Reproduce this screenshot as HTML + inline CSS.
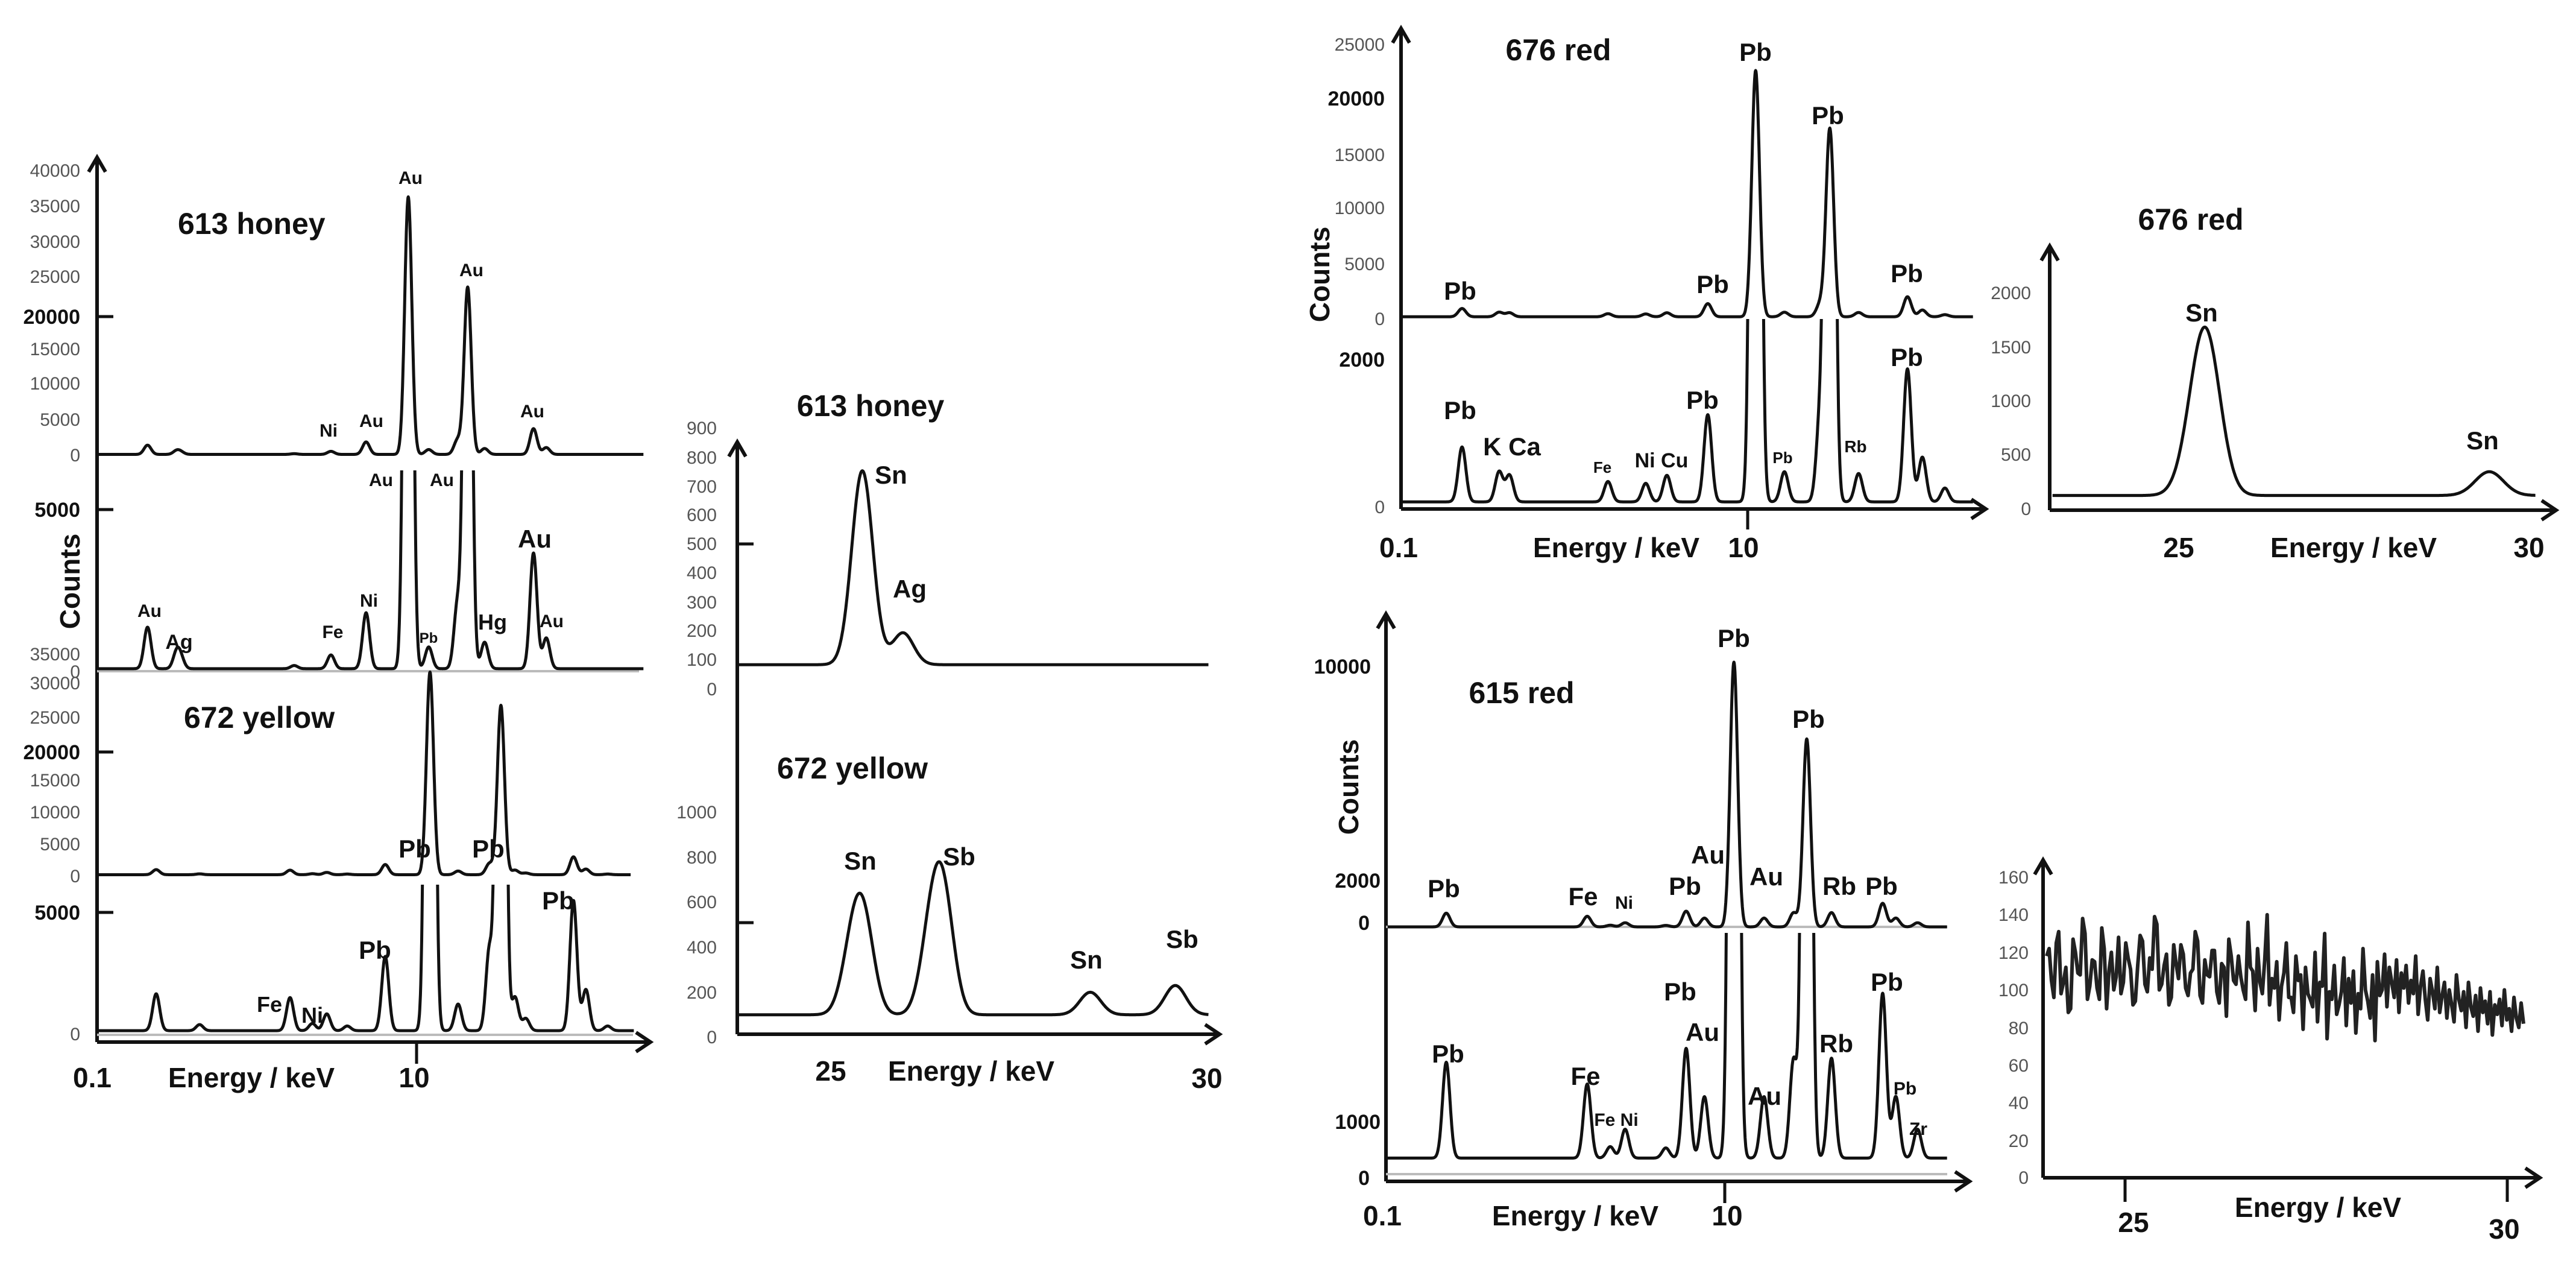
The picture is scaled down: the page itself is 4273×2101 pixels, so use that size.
<!DOCTYPE html>
<html><head><meta charset="utf-8"><style>
html,body{margin:0;padding:0;background:#fff}
svg{display:block}
text{font-family:"Liberation Sans",sans-serif}
.t{font-size:30px;fill:#555}
.tb{font-size:34px;font-weight:bold;fill:#111}
.lb{font-size:46px;font-weight:bold;fill:#111}
.pk{font-size:42px;font-weight:bold;fill:#111;text-anchor:middle}
.ps{font-size:30px;font-weight:bold;fill:#111;text-anchor:middle}
.ttl{font-size:50px;font-weight:bold;fill:#111}
</style></head><body>
<svg id="fig" xmlns="http://www.w3.org/2000/svg" width="4273" height="2101" viewBox="0 0 4273 2101">
<defs>
<clipPath id="cA1"><rect x="150" y="250" width="950" height="520"/></clipPath>
<clipPath id="cA2"><rect x="150" y="780" width="950" height="340"/></clipPath>
<clipPath id="cA3"><rect x="150" y="1105" width="950" height="355"/></clipPath>
<clipPath id="cA4"><rect x="150" y="1467" width="950" height="255"/></clipPath>
<clipPath id="cR1"><rect x="2310" y="40" width="1000" height="495"/></clipPath>
<clipPath id="cR2"><rect x="2310" y="529" width="1000" height="315"/></clipPath>
<clipPath id="cP1"><rect x="2290" y="1050" width="1000" height="495"/></clipPath>
<clipPath id="cP2"><rect x="2290" y="1547" width="1000" height="410"/></clipPath>
</defs>

<g>
<text class="ttl" x="295" y="388">613 honey</text>
<text class="ttl" x="305" y="1207">672 yellow</text>
<text class="lb" transform="translate(132,964) rotate(-90)" text-anchor="middle">Counts</text>
<g text-anchor="end">
<text class="t" x="133" y="293">40000</text><text class="t" x="133" y="352">35000</text><text class="t" x="133" y="411">30000</text><text class="t" x="133" y="469">25000</text><text class="tb" x="133" y="537">20000</text><text class="t" x="133" y="589">15000</text><text class="t" x="133" y="646">10000</text><text class="t" x="133" y="706">5000</text><text class="t" x="133" y="765">0</text>
<text class="tb" x="133" y="857">5000</text><text class="t" x="133" y="1095">35000</text><text class="t" x="133" y="1124">0</text>
<text class="t" x="133" y="1143">30000</text><text class="t" x="133" y="1200">25000</text><text class="tb" x="133" y="1259">20000</text><text class="t" x="133" y="1304">15000</text><text class="t" x="133" y="1357">10000</text><text class="t" x="133" y="1410">5000</text><text class="t" x="133" y="1463">0</text>
<text class="tb" x="133" y="1525">5000</text><text class="t" x="133" y="1725">0</text>
</g>
<text class="ps" x="681" y="305">Au</text><text class="ps" x="782" y="458">Au</text><text class="ps" x="545" y="724">Ni</text><text class="ps" x="616" y="708">Au</text><text class="ps" x="883" y="692">Au</text>
<text class="ps" x="632" y="806">Au</text><text class="ps" x="733" y="806">Au</text><text class="pk" x="887" y="908">Au</text><text class="ps" x="248" y="1023">Au</text><text class="pk" x="297" y="1076" style="font-size:34px">Ag</text><text class="ps" x="552" y="1058">Fe</text><text class="ps" x="612" y="1006">Ni</text><text class="ps" x="711" y="1066" style="font-size:24px">Pb</text><text class="pk" x="817" y="1044" style="font-size:36px">Hg</text><text class="ps" x="915" y="1040">Au</text>
<text class="pk" x="688" y="1422">Pb</text><text class="pk" x="810" y="1422">Pb</text>
<text class="pk" x="622" y="1590">Pb</text><text class="pk" x="926" y="1508">Pb</text><text class="ps" x="447" y="1678" style="font-size:36px">Fe</text><text class="ps" x="518" y="1696" style="font-size:36px">Ni</text>
<text class="lb" x="153" y="1803" text-anchor="middle">0.1</text>
<text class="lb" x="417" y="1803" text-anchor="middle">Energy / keV</text>
<text class="lb" x="687" y="1803" text-anchor="middle">10</text>
</g>

<g>
<text class="ttl" x="1444" y="690" text-anchor="middle">613 honey</text>
<text class="ttl" x="1414" y="1291" text-anchor="middle">672 yellow</text>
<g text-anchor="end">
<text class="t" x="1189" y="720">900</text><text class="t" x="1189" y="769">800</text><text class="t" x="1189" y="817">700</text><text class="t" x="1189" y="864">600</text><text class="t" x="1189" y="912">500</text><text class="t" x="1189" y="960">400</text><text class="t" x="1189" y="1009">300</text><text class="t" x="1189" y="1056">200</text><text class="t" x="1189" y="1104">100</text><text class="t" x="1189" y="1153">0</text>
<text class="t" x="1189" y="1357">1000</text><text class="t" x="1189" y="1432">800</text><text class="t" x="1189" y="1506">600</text><text class="t" x="1189" y="1581">400</text><text class="t" x="1189" y="1656">200</text><text class="t" x="1189" y="1730">0</text>
</g>
<text class="pk" x="1478" y="802">Sn</text><text class="pk" x="1509" y="991">Ag</text>
<text class="pk" x="1427" y="1442">Sn</text><text class="pk" x="1591" y="1435">Sb</text><text class="pk" x="1802" y="1606">Sn</text><text class="pk" x="1961" y="1572">Sb</text>
<text class="lb" x="1378" y="1792" text-anchor="middle">25</text>
<text class="lb" x="1611" y="1792" text-anchor="middle">Energy / keV</text>
<text class="lb" x="2002" y="1804" text-anchor="middle">30</text>
</g>

<g>
<text class="ttl" x="2585" y="100" text-anchor="middle">676 red</text>
<text class="lb" transform="translate(2205,455) rotate(-90)" text-anchor="middle">Counts</text>
<g text-anchor="end">
<text class="t" x="2297" y="84">25000</text><text class="tb" x="2297" y="175">20000</text><text class="t" x="2297" y="267">15000</text><text class="t" x="2297" y="355">10000</text><text class="t" x="2297" y="448">5000</text><text class="t" x="2297" y="539">0</text>
<text class="tb" x="2297" y="608">2000</text><text class="t" x="2297" y="851">0</text>
</g>
<text class="pk" x="2422" y="497">Pb</text><text class="pk" x="2841" y="486">Pb</text><text class="pk" x="2912" y="101">Pb</text><text class="pk" x="3032" y="206">Pb</text><text class="pk" x="3163" y="468">Pb</text>
<text class="pk" x="2422" y="695">Pb</text><text class="pk" x="2508" y="755">K Ca</text><text class="ps" x="2658" y="784" style="font-size:26px">Fe</text><text class="ps" x="2756" y="775" style="font-size:34px">Ni Cu</text><text class="pk" x="2824" y="678">Pb</text><text class="ps" x="2957" y="768" style="font-size:26px">Pb</text><text class="ps" x="3078" y="750" style="font-size:28px">Rb</text><text class="pk" x="3163" y="607">Pb</text>
<text class="lb" x="2320" y="924" text-anchor="middle">0.1</text>
<text class="lb" x="2681" y="924" text-anchor="middle">Energy / keV</text>
<text class="lb" x="2892" y="924" text-anchor="middle">10</text>
</g>

<g>
<text class="ttl" x="3634" y="381" text-anchor="middle">676 red</text>
<g text-anchor="end">
<text class="t" x="3369" y="496">2000</text><text class="t" x="3369" y="586">1500</text><text class="t" x="3369" y="675">1000</text><text class="t" x="3369" y="764">500</text><text class="t" x="3369" y="854">0</text>
</g>
<text class="pk" x="3652" y="533">Sn</text><text class="pk" x="4118" y="745">Sn</text>
<text class="lb" x="3614" y="924" text-anchor="middle">25</text>
<text class="lb" x="3904" y="924" text-anchor="middle">Energy / keV</text>
<text class="lb" x="4195" y="924" text-anchor="middle">30</text>
</g>

<g>
<text class="ttl" x="2524" y="1166" text-anchor="middle">615 red</text>
<text class="lb" transform="translate(2253,1305) rotate(-90)" text-anchor="middle">Counts</text>
<g text-anchor="end">
<text class="tb" x="2274" y="1117">10000</text><text class="tb" x="2290" y="1472">2000</text><text class="tb" x="2272" y="1542">0</text><text class="tb" x="2290" y="1872">1000</text><text class="tb" x="2272" y="1965">0</text>
</g>
<text class="pk" x="2395" y="1488">Pb</text><text class="pk" x="2626" y="1501">Fe</text><text class="ps" x="2694" y="1507">Ni</text><text class="pk" x="2795" y="1484">Pb</text><text class="pk" x="2833" y="1432">Au</text><text class="pk" x="2876" y="1073">Pb</text><text class="pk" x="2930" y="1468">Au</text><text class="pk" x="3000" y="1207">Pb</text><text class="pk" x="3051" y="1484">Rb</text><text class="pk" x="3121" y="1484">Pb</text>
<text class="pk" x="2787" y="1659">Pb</text><text class="pk" x="2824" y="1726">Au</text><text class="pk" x="2402" y="1762">Pb</text><text class="pk" x="2630" y="1799">Fe</text><text class="pk" x="3046" y="1745">Rb</text><text class="pk" x="3130" y="1643">Pb</text><text class="pk" x="2927" y="1832">Au</text><text class="ps" x="3160" y="1815">Pb</text><text class="ps" x="2681" y="1867">Fe Ni</text><text class="ps" x="3182" y="1882">Zr</text>
<text class="lb" x="2293" y="2032" text-anchor="middle">0.1</text>
<text class="lb" x="2613" y="2032" text-anchor="middle">Energy / keV</text>
<text class="lb" x="2865" y="2032" text-anchor="middle">10</text>
</g>

<g>
<g text-anchor="end">
<text class="t" x="3365" y="1465">160</text><text class="t" x="3365" y="1527">140</text><text class="t" x="3365" y="1590">120</text><text class="t" x="3365" y="1652">100</text><text class="t" x="3365" y="1715">80</text><text class="t" x="3365" y="1777">60</text><text class="t" x="3365" y="1839">40</text><text class="t" x="3365" y="1902">20</text><text class="t" x="3365" y="1963">0</text>
</g>
<text class="lb" x="3539" y="2043" text-anchor="middle">25</text>
<text class="lb" x="3845" y="2018" text-anchor="middle">Energy / keV</text>
<text class="lb" x="4154" y="2054" text-anchor="middle">30</text>
</g>
<g id="marks"></g>
</svg>
<script>
// ---- data: peak energies (keV) and heights (counts) ----
const honeyE = [1.58, 2.49, 2.62, 6.17, 7.32, 8.42, 9.74, 10.38, 11.28, 11.60, 12.13, 13.66, 14.06];
const honeyH = [1300, 490, 300, 100, 430, 1750, 36200, 680, 2000, 23500, 830, 3620, 960];
const yellowE = [1.85, 3.21, 6.04, 6.74, 7.19, 7.83, 9.02, 10.42, 11.30, 12.28, 12.64, 13.08, 13.42, 14.91, 15.30, 15.98];
const yellowH = [790, 130, 710, 155, 360, 100, 1590, 31700, 570, 1745, 26500, 720, 260, 2790, 880, 100];
const red676E = [1.76, 2.83, 3.13, 5.97, 7.06, 7.67, 8.85, 10.23, 11.06, 12.09, 12.37, 13.20, 14.61, 15.04, 15.69];
const red676H = [755, 415, 365, 280, 255, 365, 1200, 22500, 415, 1130, 17200, 390, 1830, 615, 190];
const red615E = [1.78, 5.94, 6.62, 7.06, 8.26, 8.86, 9.40, 10.27, 11.16, 12.03, 12.42, 13.15, 14.66, 15.05, 15.69];
const red615H = [518, 400, 62, 156, 55, 593, 332, 10000, 332, 530, 7100, 540, 890, 332, 156];
const snHoneyE = [25.42, 25.96];
const snHoneyH = [670, 110];
const snYellowE = [25.28, 25.44, 26.33, 26.50, 28.45, 29.58];
const snYellowH = [250, 380, 330, 480, 100, 130];
const sn676E = [25.30, 25.46, 29.44];
const sn676H = [400, 1250, 220];
const noiseVals = [118,105,125,98,112,90,120,108,130,102,115,95,122,110,100,128,104,117,92,113,
126,99,111,135,103,119,96,114,124,101,109,131,97,116,107,121,93,112,127,105,
118,100,136,110,122,98,140,106,115,102,125,96,118,108,112,95,120,104,130,99,
113,92,117,106,110,98,122,94,108,115,100,119,91,112,104,96,116,88,109,101,
113,93,105,98,118,87,102,110,95,84,106,99,90,112,88,97,104,85,100,92,
83,108,95,89,99,80,104,91,86,97,78,101,88,94,82,99,76,92,87,95,
81,100,84,90,78,96,85,80,93,82,
122,96,131,104,88,127,109,138,95,116,101,133,90,120,107,98,125,111,94,129,
103,117,139,100,113,92,124,106,119,97,111,126,93,108,121,99,114,86,118,103,
107,95,112,89,104,116,92,101,84,109,96,88,105,79,98,91,83,102,74,95,
87,99,81,93,77,90,100,85,73,97];

const NS = "http://www.w3.org/2000/svg";
const marks = document.getElementById("marks");
function mk(tag, attrs){ const el = document.createElementNS(NS, tag); for (const k in attrs) el.setAttribute(k, attrs[k]); marks.appendChild(el); return el; }

function spectrum(E, H, sigma, bg, e) { let v = bg; for (let i = 0; i < E.length; i++) { const d = (e - E[i]) / sigma; v += H[i] * Math.exp(-0.5 * d * d); } return v; }
function trace(E, H, sigma, bg, xOf, yOf, e0, e1, clip, name) {
  let d = "";
  for (let e = e0; e <= e1; e += 0.01) { d += (d ? "L" : "M") + xOf(e).toFixed(1) + "," + yOf(spectrum(E, H, sigma, bg, e)).toFixed(1); }
  const p = mk("path", {d: d, fill: "none", stroke: "#111", "stroke-width": 5, "stroke-linejoin": "round"});
  if (clip) p.setAttribute("clip-path", "url(#" + clip + ")");
  
  
}
function line(x1, y1, x2, y2, w, col, name) {
  const l = mk("line", {x1: x1, y1: y1, x2: x2, y2: y2, stroke: col || "#111", "stroke-width": w || 6});
  
  
}
function axes(x0, yTop, yBot, xEnd, name) {
  line(x0, yTop, x0, yBot, 6, "#111", name + "-y-axis");
  line(x0, yBot, xEnd, yBot, 6, "#111", name + "-x-axis");
  const a = mk("path", {d: `M${x0-14},${yTop+24}L${x0},${yTop}L${x0+14},${yTop+24}M${xEnd-24},${yBot-16}L${xEnd},${yBot}L${xEnd-24},${yBot+16}`, fill: "none", stroke: "#111", "stroke-width": 6});
  
  
}

// Panel A (613 honey / 672 yellow)
const xA = e => 161 + e * 53;
axes(161, 261, 1728, 1079, "panel-a");
line(161, 525, 188, 525, 5, "#111", "tick-20000-a"); line(161, 845, 188, 845, 5, "#111", "tick-5000-a");
line(161, 1247, 188, 1247, 5, "#111", "tick-20000-b"); line(161, 1513, 188, 1513, 5, "#111", "tick-5000-b");
line(691, 1728, 691, 1764, 5, "#111", "tick-10keV-a");
line(161, 1113, 1060, 1113, 4, "#bbb", "baseline-honey-zoom"); line(161, 1716, 1050, 1716, 4, "#bbb", "baseline-yellow-zoom");
trace(honeyE, honeyH, 0.11, 40, xA, v => 754 - v * 0.0118, 0.02, 17.1, "cA1", "spectrum-613-honey-full");
trace(honeyE, honeyH, 0.11, 40, xA, v => 1111 - v * 0.053, 0.02, 17.1, "cA2", "spectrum-613-honey-zoom");
trace(yellowE, yellowH, 0.11, 50, xA, v => 1451 - v * 0.0106, 0.02, 16.7, "cA3", "spectrum-672-yellow-full");
trace(yellowE, yellowH, 0.11, 50, xA, v => 1713 - v * 0.0774, 0.02, 16.8, "cA4", "spectrum-672-yellow-zoom");

// Sn panel for 613/672
const xS = e => 1378 + (e - 25) * 124.8;
axes(1223, 733, 1715, 2023, "panel-sn-a");
line(1223, 902, 1250, 902, 5, "#111", "tick-500-sn"); line(1223, 1530, 1250, 1530, 5, "#111", "tick-600-sn");
trace(snHoneyE, snHoneyH, 0.14, 85, xS, v => 1143 - v * 0.48, 23.77, 30.03, null, "spectrum-613-honey-sn");
trace(snYellowE, snYellowH, 0.14, 100, xS, v => 1720 - v * 0.373, 23.77, 30.03, null, "spectrum-672-yellow-sn");

// Panel 676 red
const xR = e => 2324 + e * 57.5;
axes(2324, 47, 844, 3294, "panel-676");
line(2899, 844, 2899, 878, 5, "#111", "tick-10keV-676");
trace(red676E, red676H, 0.11, 40, xR, v => 526 - v * 0.01815, 0.02, 16.5, "cR1", "spectrum-676-full");
trace(red676E, red676H, 0.11, 40, xR, v => 837 - v * 0.1205, 0.02, 16.5, "cR2", "spectrum-676-zoom");

// Sn panel 676
const xT = e => 3607 + (e - 25) * 117.6;
axes(3400, 408, 846, 4240, "panel-676-sn");
trace(sn676E, sn676H, 0.2, 125, xT, v => 844 - v * 0.179, 23.28, 30.1, null, "spectrum-676-sn");

// Panel 615 red
const xP = e => 2299 + e * 56.2;
axes(2299, 1018, 1959, 3267, "panel-615");
line(2861, 1959, 2861, 1995, 5, "#111", "tick-10keV-615");
line(2299, 1537, 3230, 1537, 4, "#bbb", "baseline-615-full"); line(2299, 1947, 3230, 1947, 4, "#bbb", "baseline-615-zoom");
trace(red615E, red615H, 0.11, 0, xP, v => 1537 - v * 0.0439, 0.05, 16.56, "cP1", "spectrum-615-full");
trace(red615E, red615H, 0.11, 80, xP, v => 1945 - v * 0.307, 0.05, 16.56, "cP2", "spectrum-615-zoom");

// Noise panel 615
axes(3389, 1426, 1953, 4213, "panel-615-noise");
line(3525, 1953, 3525, 1993, 5, "#111", "tick-25keV-noise"); line(4159, 1953, 4159, 1993, 5, "#111", "tick-30keV-noise");
const nFirst = 130;
const xN = i => 3395 + i * (791 / (noiseVals.length - 1));
const yN = v => 1953 - v * 3.115;
// interleave the second batch of readings between the first for a denser trace
const order = [];
for (let i = 0; i < nFirst; i++) { order.push(noiseVals[i]); if (i < noiseVals.length - nFirst) order.push(noiseVals[nFirst + i]); }
let nd = "";
order.forEach((v, i) => { nd += (i ? "L" : "M") + (3395 + i * 791 / (order.length - 1)).toFixed(1) + "," + yN(v).toFixed(1); });
const np = mk("path", {d: nd, fill: "none", stroke: "#222", "stroke-width": 6, "stroke-linejoin": "round"});


</script>
</body></html>
